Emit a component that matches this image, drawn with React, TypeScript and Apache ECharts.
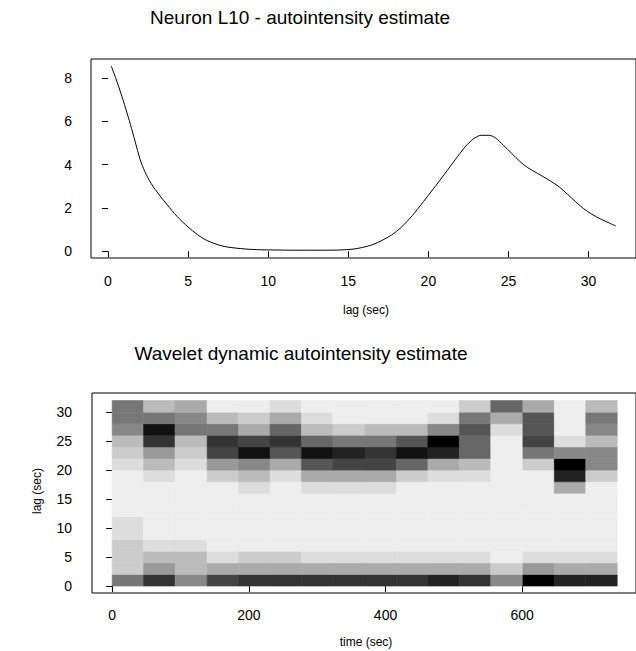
import React, { useEffect, useRef } from "react";
import * as echarts from "echarts";

// ---- Top panel: autointensity estimate ----
const lagValues = [
  0.2, 0.5, 0.8, 1.1, 1.4, 1.7, 2.0, 2.3, 2.7, 3.2, 3.7, 4.3, 5.0, 5.6, 6.2, 7.0, 7.5, 8.5, 9.5,
  10.5, 11.5, 12.5, 13.5, 14.5, 15.3, 15.9, 16.5, 17.1, 17.7, 18.3, 19.0, 19.7, 20.3, 21.0, 21.7,
  22.3, 22.8, 23.3, 23.8, 24.2, 24.7, 25.2, 25.7, 26.2, 26.8, 27.6, 28.2, 28.7, 29.2, 29.7, 30.2,
  30.8, 31.3, 31.7,
];
const autoIntensity = [
  8.55, 7.95, 7.3, 6.6, 5.85, 5.05, 4.25, 3.68, 3.12, 2.6, 2.14, 1.62, 1.12, 0.76, 0.49, 0.27, 0.19, 0.11, 0.07,
  0.06, 0.05, 0.05, 0.05, 0.06, 0.1, 0.18, 0.3, 0.5, 0.75, 1.1, 1.65, 2.3, 2.87, 3.55, 4.25,
  4.82, 5.18, 5.35, 5.35, 5.22, 4.88, 4.52, 4.15, 3.86, 3.6, 3.25, 2.95, 2.62, 2.28, 1.96, 1.71,
  1.47, 1.3, 1.17,
];
const lagTicks = [0, 5, 10, 15, 20, 25, 30];
const intensityTicks = [0, 2, 4, 6, 8];

// ---- Bottom panel: wavelet dynamic autointensity ----
const timeEdges = [0, 46, 92, 139, 185, 231, 277, 323, 370, 416, 462, 508, 554, 601, 647, 693, 739];
const lagEdges = [0, 2, 4, 6, 8, 10, 12, 14, 16, 18, 20, 22, 24, 26, 28, 30, 32];
const timeTicks = [0, 200, 400, 600];
const waveLagTicks = [0, 5, 10, 15, 20, 25, 30];
// intensity level per cell (0 = lowest / lightest, 14 = highest / black), rows from lag 0 upward
const waveletLevels: number[][] = [
  [7, 11, 6, 10, 11, 11, 11, 11, 11, 11, 12, 11, 6, 14, 12, 12],
  [2, 5, 3, 4, 4, 4, 4, 4, 4, 4, 4, 4, 2, 5, 4, 4],
  [2, 3, 3, 1, 2, 2, 1, 1, 1, 1, 1, 1, 0, 1, 1, 1],
  [2, 1, 1, 0, 0, 0, 0, 0, 0, 0, 0, 0, 0, 0, 0, 0],
  [1, 0, 0, 0, 0, 0, 0, 0, 0, 0, 0, 0, 0, 0, 0, 0],
  [1, 0, 0, 0, 0, 0, 0, 0, 0, 0, 0, 0, 0, 0, 0, 0],
  [0, 0, 0, 0, 0, 0, 0, 0, 0, 0, 0, 0, 0, 0, 0, 0],
  [0, 0, 0, 0, 0, 0, 0, 0, 0, 0, 0, 0, 0, 0, 0, 0],
  [0, 0, 0, 0, 1, 0, 1, 1, 1, 0, 0, 0, 0, 0, 4, 0],
  [0, 1, 0, 2, 3, 1, 4, 4, 4, 2, 1, 1, 0, 0, 12, 2],
  [1, 3, 1, 5, 6, 4, 9, 10, 10, 8, 4, 3, 0, 2, 14, 6],
  [2, 5, 2, 10, 13, 9, 13, 12, 11, 13, 12, 8, 0, 7, 6, 6],
  [3, 11, 3, 11, 10, 11, 8, 7, 7, 9, 14, 8, 0, 10, 1, 3],
  [6, 13, 7, 7, 4, 8, 3, 2, 3, 3, 6, 9, 1, 9, 0, 6],
  [7, 7, 6, 3, 2, 4, 1, 0, 0, 0, 1, 7, 4, 9, 0, 7],
  [7, 3, 4, 0, 0, 1, 0, 0, 0, 0, 0, 2, 8, 4, 0, 3],
];

const FONT = "Liberation Sans, Arial, Helvetica, sans-serif";

function levelColor(level: number) {
  const g = Math.round((14 - level) * 17);
  return `rgb(${g},${g},${g})`;
}

export default function App() {
  const ref = useRef<HTMLDivElement>(null);

  useEffect(() => {
    const chart = echarts.init(ref.current!, null, { renderer: "svg" });

    const cells: number[][] = [];
    for (let r = 0; r < waveletLevels.length; r++) {
      for (let c = 0; c < waveletLevels[r].length; c++) {
        cells.push([timeEdges[c], timeEdges[c + 1], lagEdges[r], lagEdges[r + 1], waveletLevels[r][c]]);
      }
    }

    const tickStyle = { show: true, length: 6, inside: false, lineStyle: { color: "#000", width: 1 } };
    const labelBase = { color: "#000", fontSize: 14, fontFamily: FONT };

    chart.setOption({
      animation: false,
      backgroundColor: "#fff",
      grid: [
        { left: 91, top: 59, width: 547, height: 199, show: true, borderColor: "#000", borderWidth: 1, backgroundColor: "transparent" },
        { left: 92, top: 393, width: 547, height: 200, show: true, borderColor: "#000", borderWidth: 1, backgroundColor: "transparent" },
      ],
      xAxis: [
        {
          type: "value", gridIndex: 0, min: -1.06, max: 32.96,
          axisLine: { show: false }, splitLine: { show: false },
          axisTick: { ...tickStyle, customValues: lagTicks },
          axisLabel: { ...labelBase, margin: 16, customValues: lagTicks },
        },
        {
          type: "value", gridIndex: 1, min: -29.5, max: 766.5,
          axisLine: { show: false }, splitLine: { show: false },
          axisTick: { ...tickStyle, customValues: timeTicks },
          axisLabel: { ...labelBase, margin: 15, customValues: timeTicks },
        },
      ],
      yAxis: [
        {
          type: "value", gridIndex: 0, min: -0.31, max: 8.87,
          axisLine: { show: false }, splitLine: { show: false },
          axisTick: { ...tickStyle, customValues: intensityTicks },
          axisLabel: { ...labelBase, margin: 19, customValues: intensityTicks },
        },
        {
          type: "value", gridIndex: 1, min: -1.2, max: 33.3,
          axisLine: { show: false }, splitLine: { show: false },
          axisTick: { ...tickStyle, customValues: waveLagTicks },
          axisLabel: { ...labelBase, margin: 20, customValues: waveLagTicks },
        },
      ],
      series: [
        {
          type: "line",
          xAxisIndex: 0,
          yAxisIndex: 0,
          data: lagValues.map((l, i) => [l, autoIntensity[i]]),
          showSymbol: false,
          smooth: 0.3,
          lineStyle: { color: "#000", width: 1 },
          silent: true,
        },
        {
          type: "custom",
          xAxisIndex: 1,
          yAxisIndex: 1,
          data: cells,
          encode: { x: [0, 1], y: [2, 3] },
          silent: true,
          z: 1,
          renderItem: (_params: any, api: any) => {
            const p0 = api.coord([api.value(0), api.value(3)]);
            const p1 = api.coord([api.value(1), api.value(2)]);
            const col = levelColor(api.value(4));
            return {
              type: "rect",
              shape: { x: p0[0], y: p0[1], width: p1[0] - p0[0], height: p1[1] - p0[1] },
              style: { fill: col, stroke: col, lineWidth: 0.6 },
            };
          },
        },
      ],
      graphic: [
        {
          type: "text", x: 300, y: 17,
          style: { text: "Neuron L10 - autointensity estimate", fill: "#000", font: `19px ${FONT}`, textAlign: "center", textVerticalAlign: "middle" },
        },
        {
          type: "text", x: 366, y: 310,
          style: { text: "lag (sec)", fill: "#000", font: `12px ${FONT}`, textAlign: "center", textVerticalAlign: "middle" },
        },
        {
          type: "text", x: 301, y: 353,
          style: { text: "Wavelet dynamic autointensity estimate", fill: "#000", font: `19px ${FONT}`, textAlign: "center", textVerticalAlign: "middle" },
        },
        {
          type: "text", x: 366, y: 642,
          style: { text: "time (sec)", fill: "#000", font: `12px ${FONT}`, textAlign: "center", textVerticalAlign: "middle" },
        },
        {
          type: "text", x: 37, y: 491, rotation: Math.PI / 2,
          style: { text: "lag (sec)", fill: "#000", font: `12px ${FONT}`, textAlign: "center", textVerticalAlign: "middle" },
        },
      ],
    });

    return () => chart.dispose();
  }, []);

  return (
    <div
      ref={ref}
      style={{ position: "absolute", left: 0, top: 0, width: 636, height: 651, background: "#fff" }}
    />
  );
}
